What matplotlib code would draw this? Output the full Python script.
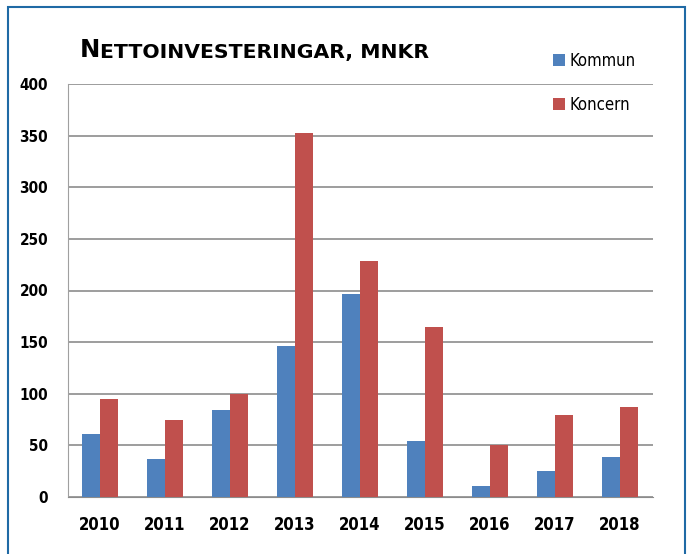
import matplotlib.pyplot as plt
import numpy as np
from matplotlib.patches import Rectangle

years = ['2010', '2011', '2012', '2013', '2014', '2015', '2016', '2017', '2018']
kommun = [61, 37, 84, 146, 197, 54, 11, 25, 39]
koncern = [95, 75, 100, 353, 229, 165, 50, 79, 87]
yticks = [0, 50, 100, 150, 200, 250, 300, 350, 400]

fig = plt.figure(figsize=(6.92, 5.54), dpi=100)
ax = fig.add_axes([67.5/692, 1-497/554, 585/692, 413/554])

x = np.arange(len(years))
w = 0.277
ax.bar(x - w/2, kommun, w, color='#4F81BD', label='Kommun', zorder=3)
ax.bar(x + w/2, koncern, w, color='#C0504D', label='Koncern', zorder=3)

ax.set_xlim(-0.5, len(years) - 0.5)
ax.set_ylim(0, 400)
ax.set_yticks(yticks)
ax.set_yticklabels([str(t) for t in yticks], fontfamily='DejaVu Sans', fontstretch='condensed',
                   fontweight='bold', fontsize=11)
ax.set_xticks(x)
ax.set_xticklabels(years, fontfamily='DejaVu Sans', fontstretch='condensed',
                   fontweight='bold', fontsize=12)
ax.tick_params(axis='both', length=0)
ax.tick_params(axis='y', pad=14)
ax.tick_params(axis='x', pad=14)
ax.yaxis.grid(True, color='#8c8c8c', linewidth=1.2, zorder=0)
for s in ['top', 'right']:
    ax.spines[s].set_visible(False)
ax.spines['left'].set_color('#a0a0a0')
ax.spines['bottom'].set_color('#8c8c8c')

leg = fig.legend(loc='upper left', bbox_to_anchor=(538/692, 1-37/554), frameon=False,
                 handlelength=0.7, handleheight=0.7, handletextpad=0.3, labelspacing=1.55,
                 prop={'family': 'DejaVu Sans', 'stretch': 'condensed', 'size': 12})

# title in small caps
t1 = fig.text(80/692, 1-57/554, 'N', fontsize=17.5, fontweight='bold', ha='left', va='baseline')
ax.annotate('ETTOINVESTERINGAR, MNKR', xy=(1, 0), xycoords=t1, fontsize=14.7, fontweight='bold',
            ha='left', va='bottom', annotation_clip=False)

# blue frame around figure
fig.patches.append(Rectangle((8/692, -0.02), 677/692, 1.02 - 7/554, transform=fig.transFigure,
                             fill=False, edgecolor='#1F6AA5', linewidth=1.5))

fig.savefig('out.png', dpi=100)
